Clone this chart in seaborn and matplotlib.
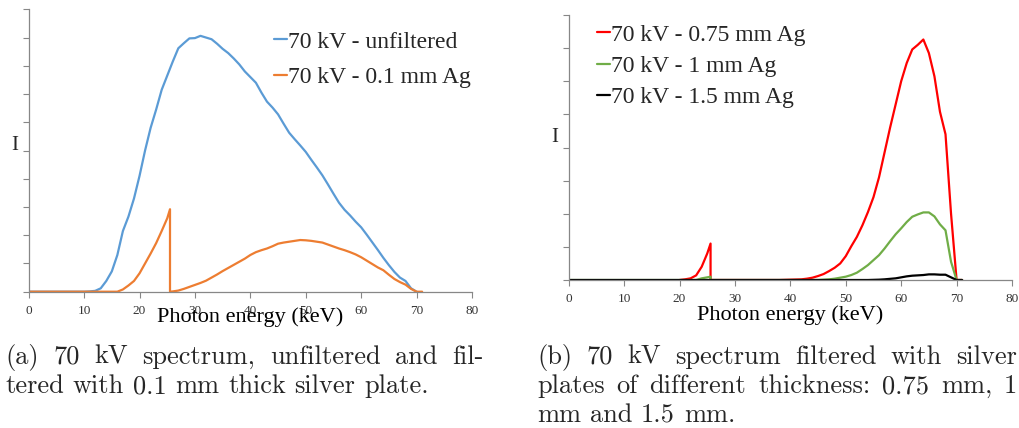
import numpy as np
import pandas as pd
import matplotlib
matplotlib.use("Agg")
import matplotlib.pyplot as plt
import seaborn as sns

# ---------------- data ----------------
unf_x = [0, 10, 11, 12, 13, 14, 15, 16, 17, 18, 19, 20, 21, 22, 23, 24, 25, 26, 27, 28, 29,
         30, 31, 32, 33, 34, 35, 36, 37, 38, 39, 40, 41, 42, 43, 44, 45, 46, 47, 48, 49,
         50, 51, 52, 53, 54, 55, 56, 57, 58, 59, 60, 61, 62, 63, 64, 65, 66, 67, 68, 69, 70]
unf_y = [0, 0, 0.01, 0.03, 0.12, 0.38, 0.72, 1.3, 2.15, 2.66, 3.3, 4.1, 5.0, 5.8, 6.45, 7.15,
         7.65, 8.15, 8.62, 8.8, 8.97, 8.98, 9.06, 9.0, 8.94, 8.78, 8.6, 8.45, 8.26, 8.05, 7.8,
         7.6, 7.4, 7.05, 6.73, 6.52, 6.28, 5.95, 5.63, 5.4, 5.18, 4.95, 4.67, 4.4, 4.12, 3.8,
         3.47, 3.15, 2.9, 2.7, 2.48, 2.28, 2.02, 1.75, 1.48, 1.2, 0.94, 0.7, 0.5, 0.38, 0.12, 0]

ag01_x = [0, 15, 16, 17, 18, 19, 20, 21, 22, 23, 24, 25, 25.5, 25.5, 26, 27, 28, 29, 30, 31,
          32, 33, 34, 35, 36, 37, 38, 39, 40, 41, 42, 43, 44, 45, 46, 47, 48, 49, 50, 51, 52,
          53, 54, 55, 56, 57, 58, 59, 60, 61, 62, 63, 64, 65, 66, 67, 68, 69, 70, 71]
ag01_y = [0, 0, 0, 0.08, 0.22, 0.38, 0.65, 1.0, 1.35, 1.72, 2.15, 2.6, 2.92, 0, 0.01, 0.04,
          0.1, 0.17, 0.24, 0.31, 0.39, 0.5, 0.61, 0.73, 0.84, 0.95, 1.06, 1.17, 1.3, 1.4,
          1.47, 1.53, 1.61, 1.7, 1.74, 1.77, 1.8, 1.83, 1.82, 1.8, 1.77, 1.74, 1.67, 1.6,
          1.53, 1.47, 1.4, 1.32, 1.22, 1.1, 0.98, 0.86, 0.76, 0.6, 0.45, 0.34, 0.25, 0.1, 0, 0]

ag075_x = [20, 21, 22, 23, 24, 25, 25.6, 25.6, 26, 38, 40, 42, 43, 44, 45, 46, 47, 48, 49, 50,
           51, 52, 53, 54, 55, 56, 57, 58, 59, 60, 61, 62, 63, 64, 65, 66, 67, 68, 69, 70, 71]
ag075_y = [0, 0.02, 0.05, 0.14, 0.4, 0.8, 1.1, 0, 0, 0, 0.01, 0.02, 0.04, 0.07, 0.12, 0.18,
           0.27, 0.37, 0.5, 0.72, 1.02, 1.3, 1.65, 2.05, 2.5, 3.1, 3.85, 4.6, 5.3, 6.0, 6.55,
           6.96, 7.1, 7.26, 6.85, 6.15, 5.08, 4.4, 2.0, 0, 0]

ag1_x = [0, 23, 24, 25, 25.6, 25.6, 26, 45, 46, 47, 48, 49, 50, 51, 52, 53, 54, 55, 56, 57,
         58, 59, 60, 61, 62, 63, 64, 65, 66, 67, 68, 69, 70, 71]
ag1_y = [0, 0, 0.05, 0.08, 0.1, 0, 0, 0, 0.01, 0.02, 0.04, 0.07, 0.1, 0.15, 0.22, 0.33, 0.45,
         0.6, 0.75, 0.95, 1.17, 1.38, 1.56, 1.75, 1.91, 1.98, 2.04, 2.04, 1.92, 1.68, 1.5,
         0.55, 0, 0]

ag15_x = [0, 54, 55, 56, 57, 58, 59, 60, 61, 62, 63, 64, 65, 66, 67, 68, 69, 70, 71]
ag15_y = [0, 0, 0.005, 0.01, 0.02, 0.035, 0.05, 0.08, 0.11, 0.13, 0.14, 0.15, 0.17, 0.17,
          0.16, 0.16, 0.08, 0, 0]

labels_a = ["70 kV - unfiltered", "70 kV - 0.1 mm Ag"]
labels_b = ["70 kV - 0.75 mm Ag", "70 kV - 1 mm Ag", "70 kV - 1.5 mm Ag"]
colors_a = ["#5B9BD5", "#ED7D31"]
colors_b = ["#FF0000", "#70AD47", "#000000"]
xticks = [0, 10, 20, 30, 40, 50, 60, 70, 80]
xlabel = "Photon energy (keV)"
ylabel = "I"
caption_a = ["(a) 70 kV spectrum, unfiltered and fil-",
             "tered with 0.1 mm thick silver plate."]
caption_b = ["(b) 70 kV spectrum filtered with silver",
             "plates of different thickness: 0.75 mm, 1",
             "mm and 1.5 mm."]

# ---------------- figure ----------------
sns.set_style("white")
plt.rcParams["font.family"] = ["Liberation Serif", "DejaVu Serif"]

W, H = 1019, 428
fig = plt.figure(figsize=(W / 100, H / 100), dpi=100)


def px_axes(l, t, r, b):
    return fig.add_axes([l / W, 1 - b / H, (r - l) / W, (b - t) / H])


axA = px_axes(28.7, 9.3, 472, 291.7)
axB = px_axes(568.7, 15, 1012, 280)

dfA = pd.concat([
    pd.DataFrame({"E": unf_x, "I": unf_y, "s": labels_a[0]}),
    pd.DataFrame({"E": ag01_x, "I": ag01_y, "s": labels_a[1]}),
])
dfB = pd.concat([
    pd.DataFrame({"E": ag075_x, "I": ag075_y, "s": labels_b[0]}),
    pd.DataFrame({"E": ag1_x, "I": ag1_y, "s": labels_b[1]}),
    pd.DataFrame({"E": ag15_x, "I": ag15_y, "s": labels_b[2]}),
])

sns.lineplot(data=dfA, x="E", y="I", hue="s", palette=colors_a, hue_order=labels_a,
             estimator=None, sort=False, lw=1.6, ax=axA)
sns.lineplot(data=dfB, x="E", y="I", hue="s", palette=colors_b, hue_order=labels_b,
             estimator=None, sort=False, lw=1.6, ax=axB)

spine_col = "#878787"
for ax, ytop in ((axA, 10), (axB, 8)):
    ax.set_xlim(0, 80)
    ax.set_ylim(0, ytop)
    ax.set_xticks(xticks)
    ax.set_yticks(range(0, ytop + 1))
    ax.set_yticklabels([])
    for s in ("top", "right"):
        ax.spines[s].set_visible(False)
    for s in ("left", "bottom"):
        ax.spines[s].set_color(spine_col)
        ax.spines[s].set_linewidth(0.9)
    ax.tick_params(axis="both", direction="out", length=4.5, width=0.8, color=spine_col,
                   labelsize=9.5, labelcolor="#333333", pad=5)
    ax.tick_params(axis="x", bottom=True)
    ax.tick_params(axis="y", left=True)
    ax.set_xlabel(xlabel, fontsize=16, color="black")
    ax.set_ylabel("")
    ax.patch.set_alpha(0)

axA.xaxis.set_label_coords(0.5, (291.7 - 307) / 282.4)
axB.xaxis.set_label_coords(0.5, (280 - 305) / 265)

fig.text(15 / W, 1 - 145 / H, ylabel, fontsize=15, ha="center", va="center")
fig.text(555 / W, 1 - 137 / H, ylabel, fontsize=15, ha="center", va="center")

hA, lA = axA.get_legend_handles_labels()
axA.legend(hA, lA, loc="upper left", bbox_to_anchor=(274 / W, 1 - 31 / H),
           bbox_transform=fig.transFigure, frameon=False, fontsize=17, borderpad=0,
           borderaxespad=0, handlelength=0.55, handletextpad=0.05, labelspacing=0.6)
hB, lB = axB.get_legend_handles_labels()
axB.legend(hB, lB, loc="upper left", bbox_to_anchor=(597 / W, 1 - 24 / H),
           bbox_transform=fig.transFigure, frameon=False, fontsize=17, borderpad=0,
           borderaxespad=0, handlelength=0.55, handletextpad=0.05, labelspacing=0.42)

# ---------------- captions (justified, Computer Modern) ----------------
cap_fs = 19
renderer = fig.canvas.get_renderer()


def caption_line(text, x0, x1, ybase, justify):
    words = text.split(" ")
    objs = [fig.text(0, 1 - ybase / H, w, fontsize=cap_fs, family="cmr10",
                     va="baseline", ha="left") for w in words]
    widths = [o.get_window_extent(renderer).width for o in objs]
    if justify and len(words) > 1:
        gap = (x1 - x0 - sum(widths)) / (len(words) - 1)
    else:
        gap = cap_fs * 100 / 72 * 0.333
    x = x0
    for o, wd in zip(objs, widths):
        o.set_x(x / W)
        x += wd + gap


caption_line(caption_a[0], 5, 484, 364, True)
caption_line(caption_a[1], 5, 484, 393, False)
caption_line(caption_b[0], 537, 1017, 364, True)
caption_line(caption_b[1], 537, 1017, 393, True)
caption_line(caption_b[2], 537, 1017, 422, False)

fig.savefig("out.png", dpi=100)
